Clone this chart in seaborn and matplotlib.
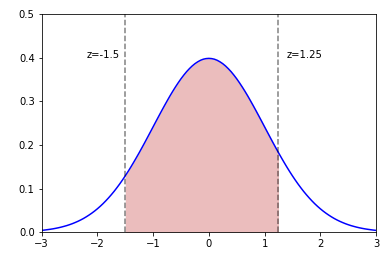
import numpy as np
import pandas as pd
import matplotlib
matplotlib.use("Agg")
import matplotlib.pyplot as plt
import seaborn as sns

# Standard normal density read at 0.05 steps from x=0 to x=3 (curve is symmetric)
half_x = [0.00, 0.05, 0.10, 0.15, 0.20, 0.25, 0.30, 0.35, 0.40, 0.45,
          0.50, 0.55, 0.60, 0.65, 0.70, 0.75, 0.80, 0.85, 0.90, 0.95,
          1.00, 1.05, 1.10, 1.15, 1.20, 1.25, 1.30, 1.35, 1.40, 1.45,
          1.50, 1.55, 1.60, 1.65, 1.70, 1.75, 1.80, 1.85, 1.90, 1.95,
          2.00, 2.05, 2.10, 2.15, 2.20, 2.25, 2.30, 2.35, 2.40, 2.45,
          2.50, 2.55, 2.60, 2.65, 2.70, 2.75, 2.80, 2.85, 2.90, 2.95, 3.00]
half_y = [0.3989, 0.3984, 0.3970, 0.3945, 0.3910, 0.3867, 0.3814, 0.3752, 0.3683, 0.3605,
          0.3521, 0.3429, 0.3332, 0.3230, 0.3123, 0.3011, 0.2897, 0.2780, 0.2661, 0.2541,
          0.2420, 0.2299, 0.2179, 0.2059, 0.1942, 0.1826, 0.1714, 0.1604, 0.1497, 0.1394,
          0.1295, 0.1200, 0.1109, 0.1023, 0.0940, 0.0863, 0.0790, 0.0721, 0.0656, 0.0596,
          0.0540, 0.0488, 0.0440, 0.0396, 0.0355, 0.0317, 0.0283, 0.0252, 0.0224, 0.0198,
          0.0175, 0.0154, 0.0136, 0.0119, 0.0104, 0.0091, 0.0079, 0.0069, 0.0060, 0.0051, 0.0044]

z_low = -1.5
z_high = 1.25
labels = ["z=-1.5", "z=1.25"]

x = [-v for v in half_x[::-1]] + half_x[1:]
y = half_y[::-1] + half_y[1:]
df = pd.DataFrame({"x": x, "y": y})

W, H = 392, 261
fig = plt.figure(figsize=(W / 72, H / 72), dpi=72)
ax = fig.add_axes([41.7 / W, (H - 232.3) / H, (376 - 41.7) / W, (232.3 - 14.3) / H])

sns.lineplot(data=df, x="x", y="y", color="blue", linewidth=1.5, ax=ax)
mask = (df["x"] >= z_low - 1e-9) & (df["x"] <= z_high + 1e-9)
ax.fill_between(df["x"][mask], df["y"][mask], color="indianred", alpha=0.4, linewidth=0)
ax.axvline(z_low, color="black", alpha=0.5, linestyle="--", linewidth=1.5)
ax.axvline(z_high, color="black", alpha=0.5, linestyle="--", linewidth=1.5)
ax.text(-2.2, 0.4, labels[0], fontsize=10)
ax.text(1.4, 0.4, labels[1], fontsize=10)

ax.set_xlim(-3, 3)
ax.set_ylim(0, 0.5)
ax.set_xlabel("")
ax.set_ylabel("")
ax.tick_params(labelsize=10)

fig.savefig("out.png", dpi=72)
